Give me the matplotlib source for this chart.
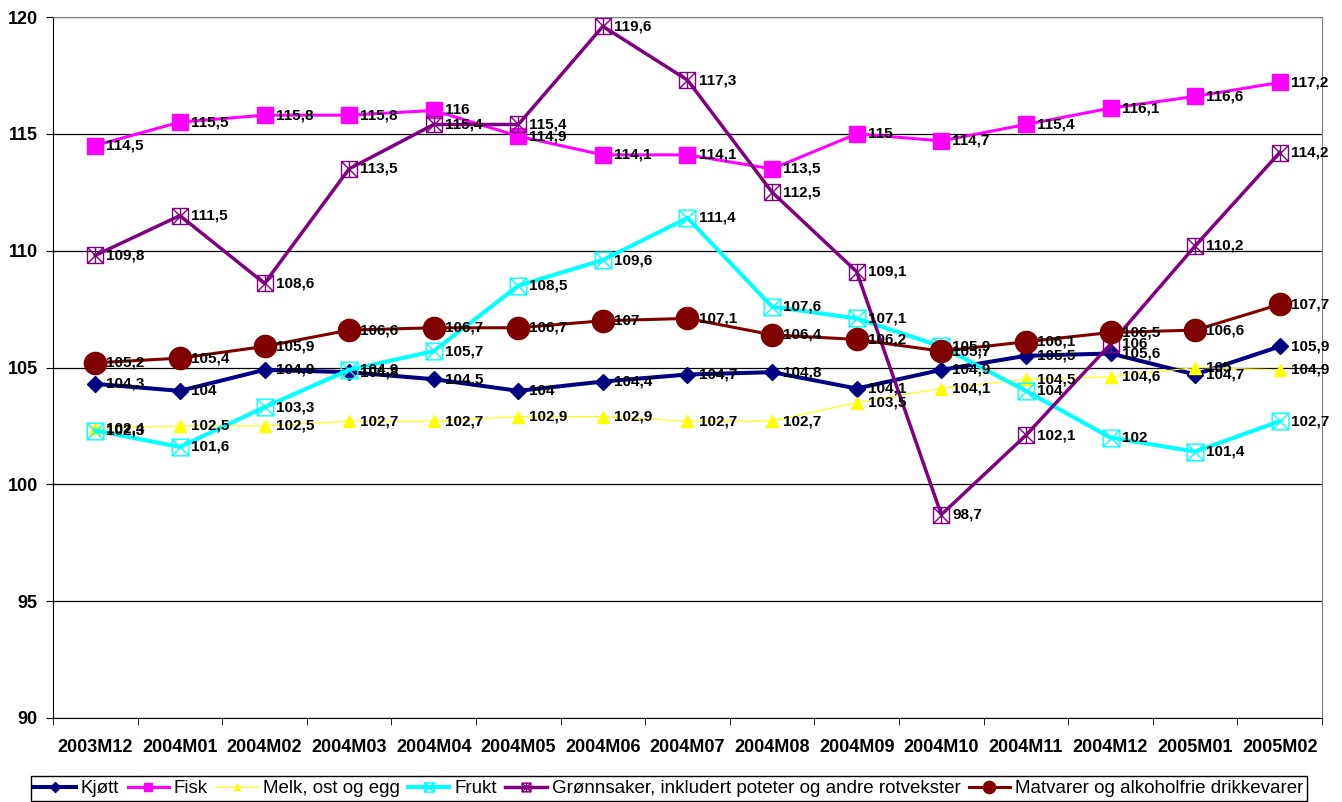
import numpy as np
import matplotlib.pyplot as plt
from matplotlib.path import Path

plt.rcParams['font.family'] = ['Liberation Sans', 'DejaVu Sans']

months = ["2003M12", "2004M01", "2004M02", "2004M03", "2004M04", "2004M05", "2004M06",
          "2004M07", "2004M08", "2004M09", "2004M10", "2004M11", "2004M12", "2005M01", "2005M02"]

kjott = [104.3, 104, 104.9, 104.8, 104.5, 104, 104.4, 104.7, 104.8, 104.1, 104.9, 105.5, 105.6, 104.7, 105.9]
fisk = [114.5, 115.5, 115.8, 115.8, 116, 114.9, 114.1, 114.1, 113.5, 115, 114.7, 115.4, 116.1, 116.6, 117.2]
melk = [102.4, 102.5, 102.5, 102.7, 102.7, 102.9, 102.9, 102.7, 102.7, 103.5, 104.1, 104.5, 104.6, 105, 104.9]
frukt = [102.3, 101.6, 103.3, 104.9, 105.7, 108.5, 109.6, 111.4, 107.6, 107.1, 105.9, 104, 102, 101.4, 102.7]
gronn = [109.8, 111.5, 108.6, 113.5, 115.4, 115.4, 119.6, 117.3, 112.5, 109.1, 98.7, 102.1, 106, 110.2, 114.2]
matvarer = [105.2, 105.4, 105.9, 106.6, 106.7, 106.7, 107, 107.1, 106.4, 106.2, 105.7, 106.1, 106.5, 106.6, 107.7]

# box with X, and box with X plus vertical bar
box_x = Path([(-1, -1), (1, -1), (1, 1), (-1, 1), (-1, -1), (-1, -1), (1, 1), (-1, 1), (1, -1)],
             [Path.MOVETO, Path.LINETO, Path.LINETO, Path.LINETO, Path.CLOSEPOLY,
              Path.MOVETO, Path.LINETO, Path.MOVETO, Path.LINETO])
box_xi = Path([(-1, -1), (1, -1), (1, 1), (-1, 1), (-1, -1), (-1, -1), (1, 1), (-1, 1), (1, -1), (0, -1), (0, 1)],
              [Path.MOVETO, Path.LINETO, Path.LINETO, Path.LINETO, Path.CLOSEPOLY,
               Path.MOVETO, Path.LINETO, Path.MOVETO, Path.LINETO, Path.MOVETO, Path.LINETO])

series = [
    ("Kjøtt", kjott, dict(color="#000080", lw=2.9, marker="D", ms=8.6)),
    ("Fisk", fisk, dict(color="#FF00FF", lw=2.2, marker="s", ms=11.5)),
    ("Melk, ost og egg", melk, dict(color="#FFFF00", lw=0.8, marker="^", ms=8)),
    ("Frukt", frukt, dict(color="#00FFFF", lw=2.9, marker=box_x, ms=12, mfc="none", mew=1.0)),
    ("Grønnsaker, inkludert poteter og andre rotvekster", gronn,
     dict(color="#800080", lw=2.5, marker=box_xi, ms=11.5, mfc="none", mew=1.0)),
    ("Matvarer og alkoholfrie drikkevarer", matvarer, dict(color="#800000", lw=2.2, marker="o", ms=16)),
]

fig = plt.figure(figsize=(13.42, 8.02), dpi=100)
ax = fig.add_axes([53 / 1342, 1 - 718 / 802, (1322 - 53) / 1342, (718 - 17) / 802])

x = np.arange(len(months))
for name, vals, style in series:
    ax.plot(x, vals, label=name, **style)
    for xi, v in zip(x, vals):
        ax.annotate(f"{v:g}".replace(".", ","), (xi, v), xytext=(8, 0), textcoords="offset points",
                    va="center", ha="left", fontsize=11, fontweight="bold")

ax.set_xlim(-0.5, len(months) - 0.5)
ax.set_ylim(90, 120)
ax.set_yticks(range(90, 121, 5))
ax.set_yticklabels([str(v) for v in range(90, 121, 5)], fontsize=13, fontweight="bold")
ax.set_xticks(x)
ax.set_xticklabels(months, fontsize=13, fontweight="bold")
ax.set_xticks(np.arange(-0.5, len(months)), minor=True)
ax.tick_params(axis="x", which="major", length=0, pad=15)
ax.tick_params(axis="x", which="minor", length=5, direction="out")
ax.tick_params(axis="y", length=5, direction="out", pad=6)
ax.grid(axis="y", color="black", lw=0.9)
ax.set_axisbelow(True)
for s in ["top", "right"]:
    ax.spines[s].set_color("#808080")
for s in ["left", "bottom"]:
    ax.spines[s].set_color("black")

fig.legend(loc="lower center", bbox_to_anchor=(0.4985, 0.0), ncol=6, fontsize=13.5, frameon=True,
           fancybox=False, edgecolor="black", framealpha=1, handlelength=2.2, handletextpad=0.27,
           columnspacing=0.45, borderpad=0.2, borderaxespad=0.05, markerscale=0.55)

fig.savefig("out.png", dpi=100)
